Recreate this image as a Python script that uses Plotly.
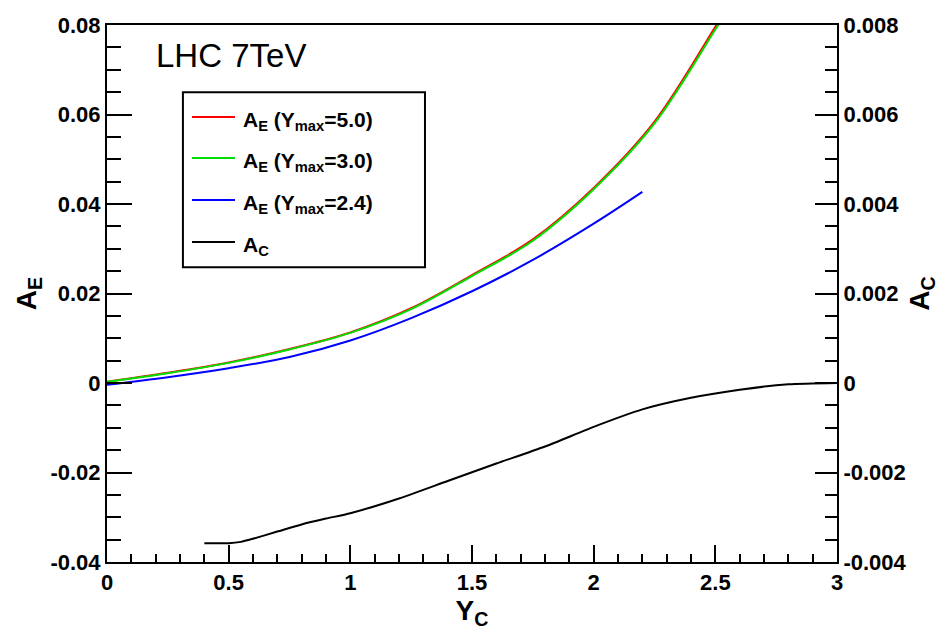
import numpy as np
import plotly.graph_objects as go

# ---- data ----
x_ae = [0.0, 0.25, 0.5, 0.75, 1.0, 1.25, 1.5, 1.75, 2.0, 2.25, 2.5, 2.53]
ae_ymax5 = [0.0003, 0.0023, 0.0046, 0.0076, 0.0113, 0.0167, 0.0241, 0.0321, 0.0436, 0.0584, 0.0796, 0.0822]
ae_ymax3 = [0.0003, 0.0022, 0.0045, 0.0075, 0.0112, 0.0165, 0.0239, 0.0318, 0.0433, 0.0580, 0.0790, 0.0815]
x_ae24 = [0.0, 0.25, 0.5, 0.75, 1.0, 1.25, 1.5, 1.75, 2.0, 2.2]
ae_ymax24 = [-0.0004, 0.0013, 0.0033, 0.0058, 0.0095, 0.0145, 0.0205, 0.0275, 0.0356, 0.0427]

x_ac = [0.4, 0.45, 0.5, 0.55, 0.6, 0.7, 0.8, 0.9, 1.0, 1.2, 1.4, 1.6, 1.8, 2.0, 2.2, 2.4, 2.6, 2.8, 3.0]
ac = [-0.00358, -0.00358, -0.00358, -0.00355, -0.00348, -0.00332, -0.00316, -0.00303, -0.00291, -0.00258,
      -0.00219, -0.00180, -0.00142, -0.00098, -0.00059, -0.00033, -0.00015, -0.00003, 0.0]

x_ticks = [0, 0.5, 1, 1.5, 2, 2.5, 3]
x_ticktext = ["0", "0.5", "1", "1.5", "2", "2.5", "3"]
yl_ticks = [-0.04, -0.02, 0, 0.02, 0.04, 0.06, 0.08]
yl_ticktext = ["-0.04", "-0.02", "0", "0.02", "0.04", "0.06", "0.08"]
yr_ticks = [-0.004, -0.002, 0, 0.002, 0.004, 0.006, 0.008]
yr_ticktext = ["-0.004", "-0.002", "0", "0.002", "0.004", "0.006", "0.008"]

legend_labels = ["A<sub>E</sub> (Y<sub>max</sub>=5.0)", "A<sub>E</sub> (Y<sub>max</sub>=3.0)",
                 "A<sub>E</sub> (Y<sub>max</sub>=2.4)", "A<sub>C</sub>"]
colors = ["#ff0000", "#00e000", "#0000ff", "#000000"]

FONT = "Liberation Sans, Arial, Helvetica, sans-serif"

fig = go.Figure()
fig.add_trace(go.Scatter(x=x_ae, y=ae_ymax5, mode="lines", line=dict(color=colors[0], width=2),
                         line_shape="spline", showlegend=False))
fig.add_trace(go.Scatter(x=x_ae, y=ae_ymax3, mode="lines", line=dict(color=colors[1], width=2),
                         line_shape="spline", showlegend=False))
fig.add_trace(go.Scatter(x=x_ae24, y=ae_ymax24, mode="lines", line=dict(color=colors[2], width=2),
                         line_shape="spline", showlegend=False))
fig.add_trace(go.Scatter(x=x_ac, y=ac, mode="lines", line=dict(color=colors[3], width=2, smoothing=0.6),
                         line_shape="spline", yaxis="y2", showlegend=False))

tickfont = dict(family=FONT, size=22, color="black", weight="bold")

fig.update_layout(
    width=946, height=633,
    margin=dict(l=107, r=109, t=25, b=71),
    plot_bgcolor="white", paper_bgcolor="white",
    xaxis=dict(range=[0, 3], tickmode="array", tickvals=x_ticks, ticktext=x_ticktext,
               ticks="inside", ticklen=17, tickwidth=2, tickcolor="black",
               minor=dict(tickmode="linear", tick0=0, dtick=0.1, ticks="inside", ticklen=8,
                          tickwidth=2, tickcolor="black", showgrid=False),
               showline=True, linewidth=2, linecolor="black", mirror=True,
               showgrid=False, zeroline=False, tickfont=tickfont,
               title=dict(text="<b>Y<sub>C</sub></b>", font=dict(family=FONT, size=28, color="black"),
                          standoff=6)),
    yaxis=dict(range=[-0.04, 0.08], tickmode="array", tickvals=yl_ticks, ticktext=yl_ticktext,
               ticks="inside", ticklen=25, tickwidth=2, tickcolor="black",
               minor=dict(tickmode="linear", tick0=0, dtick=0.005, ticks="inside", ticklen=14,
                          tickwidth=2, tickcolor="black", showgrid=False),
               showline=True, linewidth=2, linecolor="black",
               showgrid=False, zeroline=False, tickfont=tickfont,
               title=dict(text="<b>A<sub>E</sub></b>", font=dict(family=FONT, size=28, color="black"),
                          standoff=6)),
    yaxis2=dict(range=[-0.004, 0.008], overlaying="y", side="right",
                tickmode="array", tickvals=yr_ticks, ticktext=yr_ticktext,
                ticks="inside", ticklen=22, tickwidth=2, tickcolor="black",
                minor=dict(tickmode="linear", tick0=0, dtick=0.0005, ticks="inside", ticklen=12,
                           tickwidth=2, tickcolor="black", showgrid=False),
                showline=True, linewidth=2, linecolor="black",
                showgrid=False, zeroline=False, tickfont=tickfont,
                title=dict(text="<b>A<sub>C</sub></b>", font=dict(family=FONT, size=28, color="black"),
                           standoff=4)),
)

# Title text
fig.add_annotation(text="LHC 7TeV", xref="paper", yref="paper", x=0.064, y=0.944,
                   xanchor="left", yanchor="middle", showarrow=False,
                   font=dict(family=FONT, size=33, color="black"))

# Legend box
fig.add_shape(type="rect", xref="paper", yref="paper", x0=0.104, x1=0.4356, y0=0.549, y1=0.875,
              line=dict(color="black", width=2), fillcolor="white", layer="above")
row_y = [0.8287, 0.7523, 0.6741, 0.5959]
for lab, col, yy in zip(legend_labels, colors, row_y):
    fig.add_shape(type="line", xref="paper", yref="paper", x0=0.1164, x1=0.1753, y0=yy, y1=yy,
                  line=dict(color=col, width=2), layer="above")
    fig.add_annotation(text="<b>" + lab + "</b>", xref="paper", yref="paper", x=0.184, y=yy - 0.008,
                       xanchor="left", yanchor="middle", showarrow=False,
                       font=dict(family=FONT, size=21, color="black"))

fig.write_html("out.html")
